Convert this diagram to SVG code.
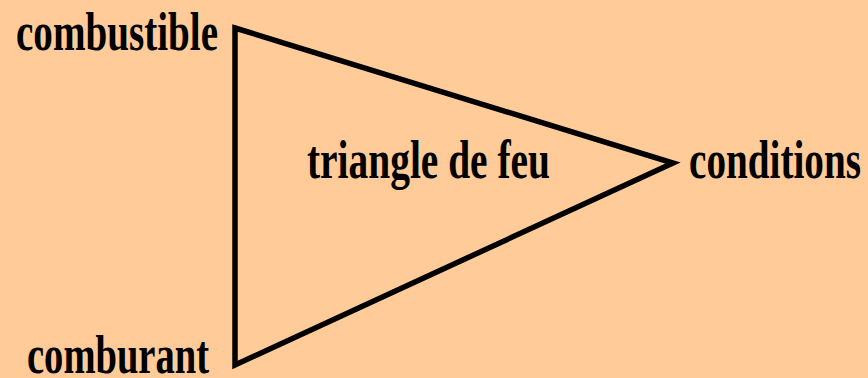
<svg xmlns="http://www.w3.org/2000/svg" width="868" height="378" viewBox="0 0 868 378">
<style>
.t{font-family:"Liberation Serif","Times New Roman",serif;font-weight:bold;font-size:55px;fill:#000}
</style>
<rect width="868" height="378" fill="#FFCC99"/>
<g id="connectors">
<polygon points="235,28 673,163 235,365" fill="none" stroke="#000" stroke-width="5.5" stroke-linejoin="miter"/>
</g>
<g id="combustible"><text class="t" x="16" y="50" textLength="202" lengthAdjust="spacingAndGlyphs">combustible</text></g>
<g id="conditions"><text class="t" x="689" y="178" textLength="172" lengthAdjust="spacingAndGlyphs">conditions</text></g>
<g id="comburant"><text class="t" x="27" y="373" textLength="182" lengthAdjust="spacingAndGlyphs">comburant</text></g>
<g id="triangle"><text class="t" x="307" y="178" textLength="243" lengthAdjust="spacingAndGlyphs">triangle de feu</text></g>
</svg>
